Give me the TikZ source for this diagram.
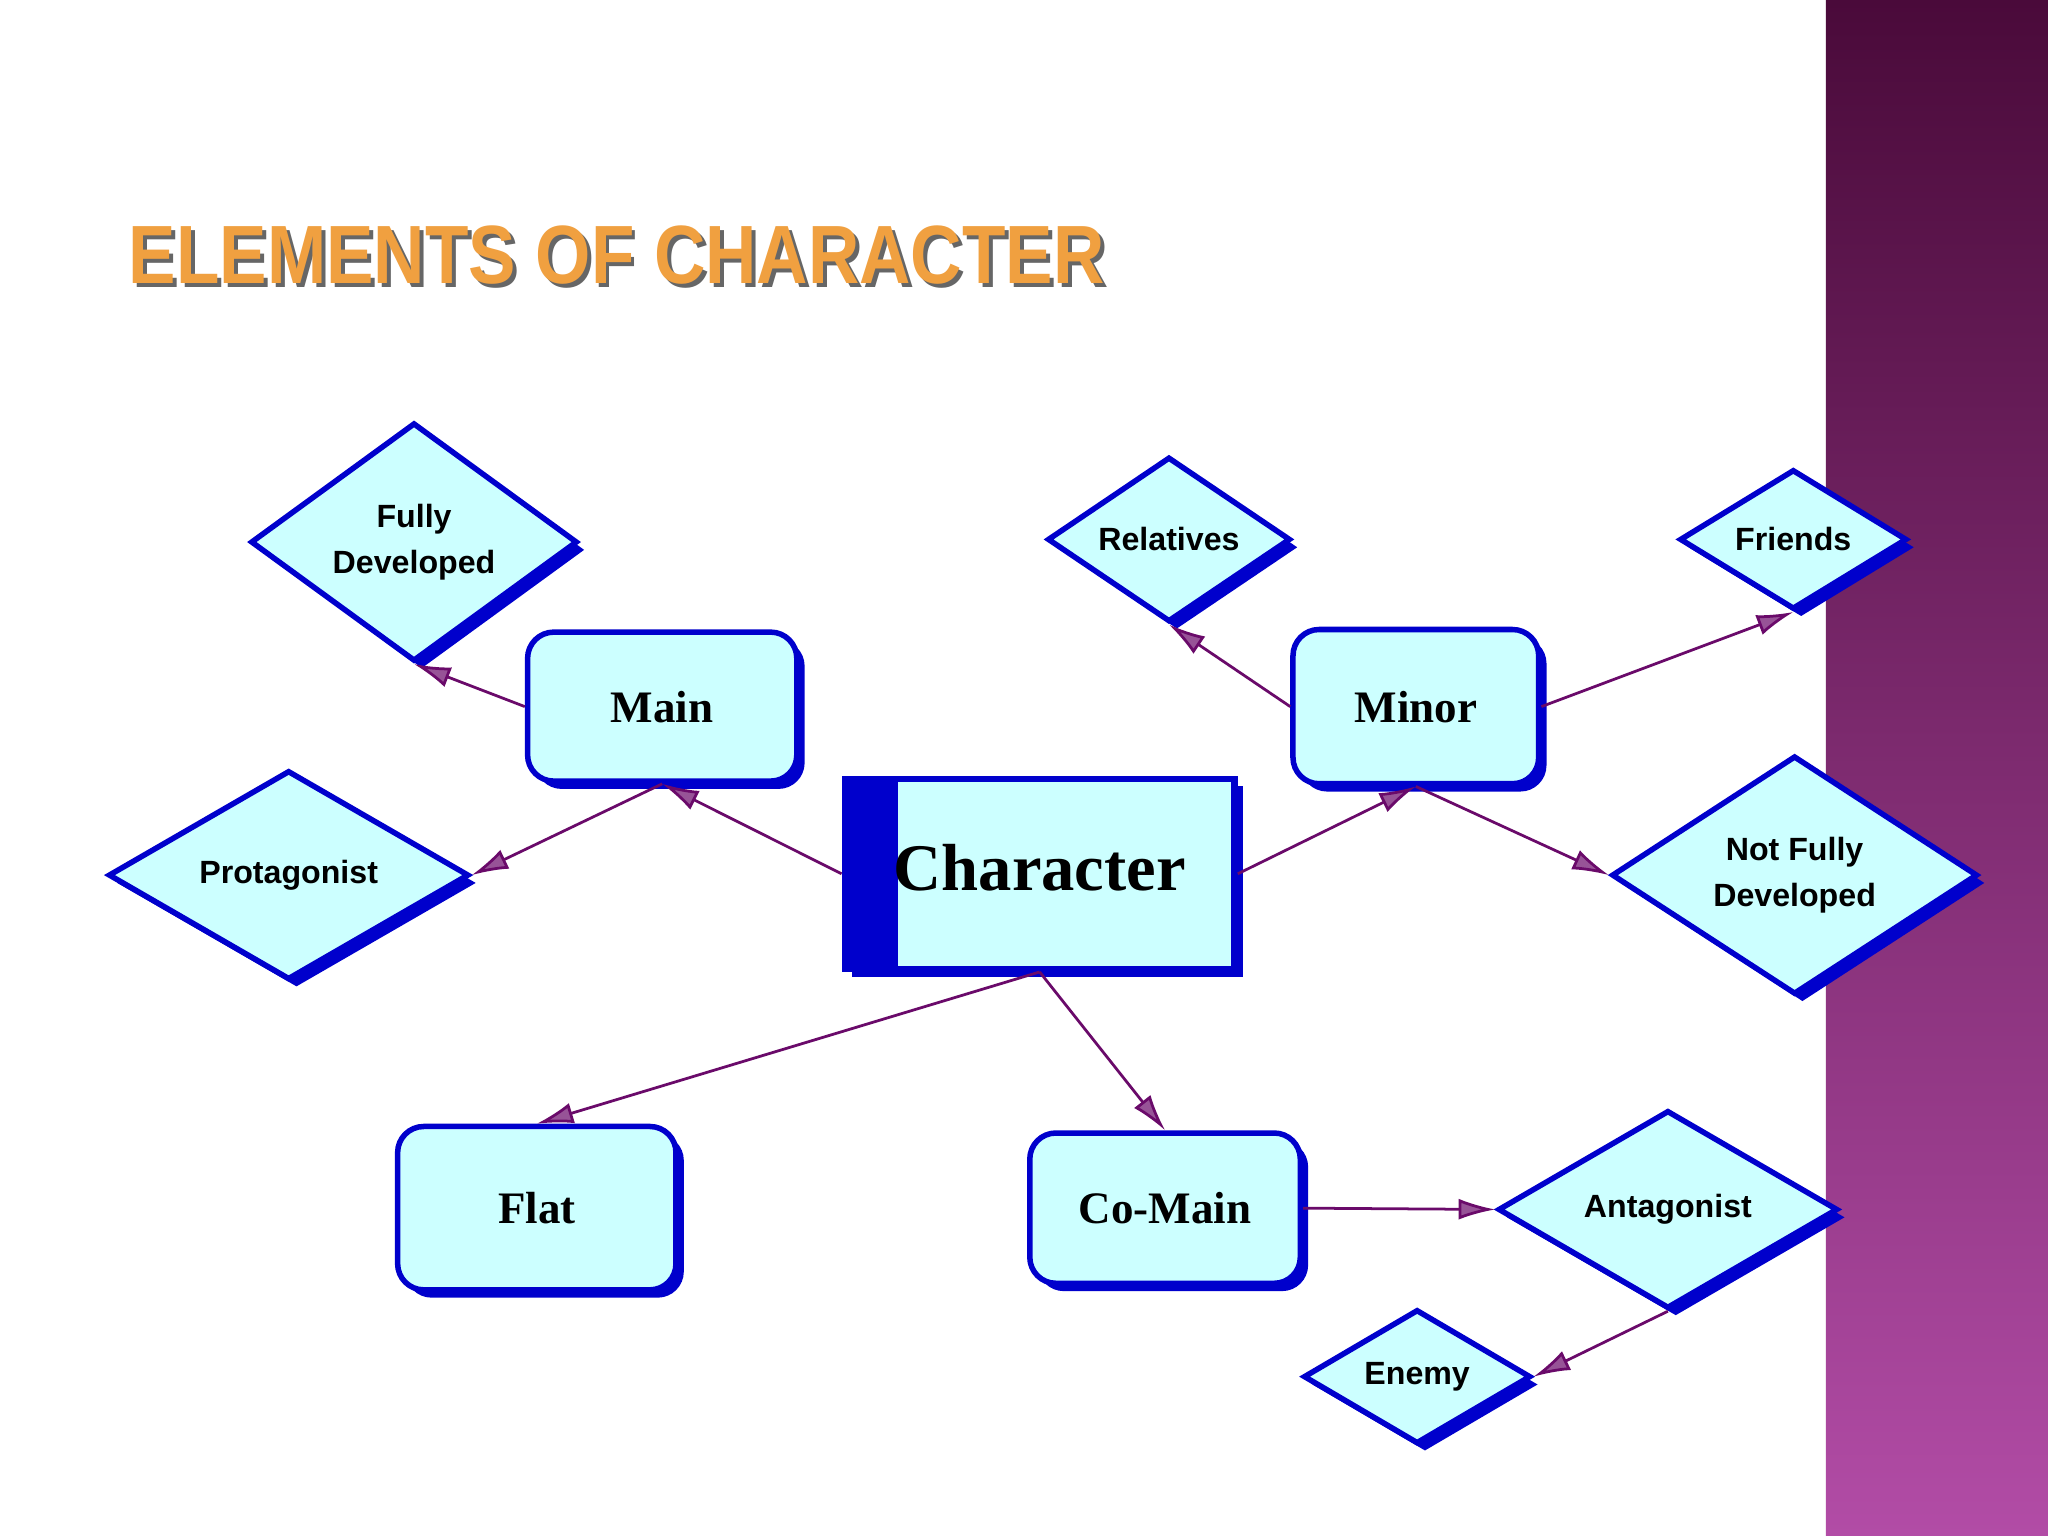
\documentclass[tikz,border=0pt]{standalone}
\usepackage{fontspec}
\setmainfont{Liberation Serif}
\newfontfamily\sansf{Liberation Sans}
\usetikzlibrary{shapes.geometric,shadows,arrows.meta}
\definecolor{boxfill}{HTML}{CCFFFF}
\definecolor{bblue}{HTML}{0000CC}
\definecolor{arr}{HTML}{6A0A6A}
\definecolor{bandtop}{HTML}{4A0A3A}
\definecolor{bandbot}{HTML}{B24CA6}
\definecolor{titleor}{HTML}{F0A040}
\tikzset{
  shad/.style={general shadow={shadow xshift=0.06cm, shadow yshift=-0.06cm, fill=bblue}},
  dia/.style={diamond, draw=bblue, line width=1.2pt, fill=boxfill, inner sep=0pt, shad,
     font=\sansf\bfseries\fontsize{7}{10}\selectfont, align=center},
  rbox/.style={rectangle, rounded corners=0.2cm, draw=bblue, line width=1.2pt, fill=boxfill, shad,
     font=\bfseries\fontsize{9.8}{12}\selectfont},
  con/.style={draw=arr, line width=0.6pt, -{Latex[length=0.28cm,width=0.16cm,fill=arr!70]}}
}
\begin{document}
\begin{tikzpicture}[x=0.01cm,y=-0.01cm]
\useasboundingbox (0,0) rectangle (1568,1176);
\fill[white] (0,0) rectangle (1568,1176);
\shade[top color=bandtop, bottom color=bandbot] (1398,0) rectangle (1568,1176);
\node[anchor=west, font=\sansf\bfseries\fontsize{18}{20}\selectfont, text=black!60, xscale=0.86] at (91,198) {ELEMENTS OF CHARACTER};
\node (title) [anchor=west, font=\sansf\bfseries\fontsize{18}{20}\selectfont, text=titleor, xscale=0.86] at (88,195) {ELEMENTS OF CHARACTER};

% diamonds
\node[dia, minimum width=2.5cm, minimum height=1.46cm] (fully) at (317,415) {Fully\\Developed};
\node[dia, minimum width=1.86cm, minimum height=1cm] (rel) at (895,413) {Relatives};
\node[dia, minimum width=1.74cm, minimum height=1cm] (fri) at (1373,413) {Friends};
\node[dia, minimum width=2.76cm, minimum height=1.6cm] (pro) at (221,670) {Protagonist};
\node[dia, minimum width=2.8cm, minimum height=1.6cm] (nfd) at (1374,670) {Not Fully\\Developed};
\node[dia, minimum width=2.6cm, minimum height=1.5cm] (ant) at (1277,926) {Antagonist};
\node[dia, minimum width=1.74cm, minimum height=1cm] (ene) at (1085,1054) {Enemy};

% boxes
\node[rbox, minimum width=2.06cm, minimum height=1.14cm] (main) at (507,541) {Main};
\node[rbox, minimum width=1.88cm, minimum height=1.18cm] (minor) at (1084,541) {Minor};
\node[rbox, minimum width=2.13cm, minimum height=1.25cm] (flat) at (411,925) {Flat};
\node[rbox, minimum width=2.07cm, minimum height=1.15cm] (comain) at (892,925) {Co-Main};

% character
\node[rectangle, draw=bblue, line width=1.2pt, fill=boxfill, shad, minimum width=2.99cm, minimum height=1.46cm] (char) at (796,669) {};
\fill[bblue] (char.north west) rectangle ([xshift=0.42cm]char.south west);
\draw[bblue, line width=0.5pt] ([xshift=0.42cm, yshift=-0.04cm]char.north west) rectangle ([xshift=-0.04cm, yshift=0.04cm]char.south east);
\node[font=\bfseries\fontsize{14.5}{16}\selectfont] at (796,664) {Character};

% connectors
\draw[con] (main.west) -- (fully.south);
\draw[con] (char.west) -- (main.south);
\draw[con] (main.south) -- (pro.east);
\draw[con] (minor.west) -- (rel.south);
\draw[con] (minor.east) -- (fri.south);
\draw[con] (char.east) -- (minor.south);
\draw[con] (minor.south) -- (nfd.west);
\draw[con] (char.south) -- (flat.north);
\draw[con] (char.south) -- (comain.north);
\draw[con] (comain.east) -- (ant.west);
\draw[con] (ant.south) -- (ene.east);
\end{tikzpicture}
\end{document}
